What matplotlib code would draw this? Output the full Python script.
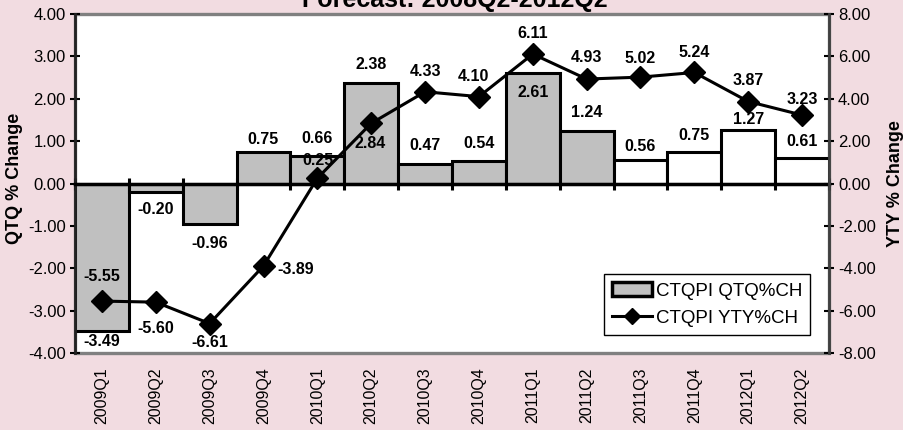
import matplotlib
matplotlib.use("Agg")
import matplotlib.pyplot as plt
from matplotlib.patches import Patch, Rectangle
from matplotlib.lines import Line2D
import numpy as np

plt.rcParams['font.family'] = ['Liberation Sans', 'DejaVu Sans']

# Quarterly data
quarters = ["2009Q1", "2009Q2", "2009Q3", "2009Q4", "2010Q1", "2010Q2", "2010Q3",
            "2010Q4", "2011Q1", "2011Q2", "2011Q3", "2011Q4", "2012Q1", "2012Q2"]
qtq = [-3.49, -0.20, -0.96, 0.75, 0.66, 2.38, 0.47, 0.54, 2.61, 1.24, 0.56, 0.75, 1.27, 0.61]
yty = [-5.55, -5.60, -6.61, -3.89, 0.25, 2.84, 4.33, 4.10, 6.11, 4.93, 5.02, 5.24, 3.87, 3.23]
n_actual = 10  # quarters with actual data; the rest are forecasts

title = "Forecast: 2008Q2-2012Q2"
left_ticks = [-4, -3, -2, -1, 0, 1, 2, 3, 4]
right_ticks = [-8, -6, -4, -2, 0, 2, 4, 6, 8]

BG = "#F2DCE1"
BAR_GRAY = "#C0C0C0"

W, H = 904, 430
fig = plt.figure(figsize=(W / 100, H / 100), dpi=100, facecolor=BG)
ax = fig.add_axes([75 / W, 1 - 353 / H, (829 - 75) / W, (353 - 14) / H])
ax.set_facecolor("white")

x = np.arange(len(quarters))
colors = [BAR_GRAY if i < n_actual else "white" for i in range(len(quarters))]
ax.bar(x, qtq, width=1.0, color=colors, edgecolor="black", linewidth=2.2, zorder=2)

ax.set_xlim(-0.5, len(quarters) - 0.5)
ax.set_ylim(left_ticks[0], left_ticks[-1])
ax.set_yticks(left_ticks)
ax.set_yticklabels([f"{v:.2f}" for v in left_ticks], fontsize=12)
ax.tick_params(axis="y", direction="inout", length=7, width=1.5, pad=3)

# category axis crosses at zero, tick marks at category boundaries
for s in ["top", "right"]:
    ax.spines[s].set_visible(False)
ax.spines["bottom"].set_position(("data", 0))
ax.spines["bottom"].set_linewidth(2.5)
ax.spines["bottom"].set_zorder(3)
ax.spines["left"].set_linewidth(2)
ax.spines["left"].set_color("#222222")
ax.set_xticks(np.arange(-0.5, len(quarters)))
ax.set_xticklabels([])
ax.tick_params(axis="x", direction="inout", length=9, width=2.2)

# category names at the bottom of the plot
sec = ax.secondary_xaxis(0.0)
sec.set_xticks(x)
sec.set_xticklabels(quarters, rotation=90, fontsize=11.5)
sec.tick_params(axis="x", length=0, pad=10.5)
sec.spines["bottom"].set_visible(False)

# plot border
ax.add_patch(Rectangle((0, 0), 1, 1, transform=ax.transAxes, fill=False,
                       edgecolor="#808080", linewidth=2.4, clip_on=False, zorder=1))

# year-over-year line on the secondary axis
ax2 = ax.twinx()
ax2.plot(x, yty, color="black", linewidth=2.2, marker="D", markersize=11, zorder=4)
ax2.set_ylim(right_ticks[0], right_ticks[-1])
ax2.set_yticks(right_ticks)
ax2.set_yticklabels([f"{v:.2f}" for v in right_ticks], fontsize=12)
ax2.tick_params(axis="y", direction="inout", length=7, width=1.5, pad=3)
for s in ["top", "left", "bottom"]:
    ax2.spines[s].set_visible(False)
ax2.spines["right"].set_linewidth(2)
ax2.spines["right"].set_color("#404040")

# axis titles
fig.text(15 / W, 1 - 178 / H, "QTQ % Change", rotation=90, ha="center", va="center",
         fontsize=13, fontweight="bold")
fig.text(896 / W, 1 - 184 / H, "YTY % Change", rotation=90, ha="center", va="center",
         fontsize=13, fontweight="bold")

# data labels (offsets in pixels)
qtq_off = [(0, -10), (0, -18), (0, -19), (0, 12), (0, 17), (0, 18), (0, 18),
           (0, 17), (0, -20), (0, 18), (0, 13), (0, 16), (0, 10), (0, 16)]
yty_off = [(0, 25), (0, -26), (0, -19), (32, -4), (1, 18), (-1, -20), (0, 20),
           (-5, 20), (0, 21), (0, 22), (0, 19), (0, 20), (0, 21), (0, 16)]
for xi, v, (dx, dy) in zip(x, qtq, qtq_off):
    ax2.annotate(f"{v:.2f}", xy=(xi, v * 2), xytext=(dx, dy), textcoords="offset pixels",
                 ha="center", va="center", fontsize=11.5, fontweight="bold", zorder=5)
for xi, v, (dx, dy) in zip(x, yty, yty_off):
    ax2.annotate(f"{v:.2f}", xy=(xi, v), xytext=(dx, dy), textcoords="offset pixels",
                 ha="center", va="center", fontsize=11.5, fontweight="bold", zorder=5)

handles = [Patch(facecolor=BAR_GRAY, edgecolor="black", linewidth=2.5),
           Line2D([], [], color="black", linewidth=2.2, marker="D", markersize=8)]
leg = ax2.legend(handles, ["CTQPI QTQ%CH", "CTQPI YTY%CH"], loc="upper left",
                 bbox_to_anchor=(604 / W, 1 - 274 / H), bbox_transform=fig.transFigure,
                 fontsize=13.5, frameon=True, fancybox=False, framealpha=1,
                 edgecolor="black", borderpad=0.45, handlelength=2.1,
                 handletextpad=0.2, labelspacing=0.55, borderaxespad=0)
leg.get_frame().set_linewidth(1.0)

fig.text(455 / W, 1 - 7 / H, title, ha="center", va="baseline",
         fontsize=18, fontweight="bold")

fig.savefig("out.png", dpi=100, facecolor=BG)
